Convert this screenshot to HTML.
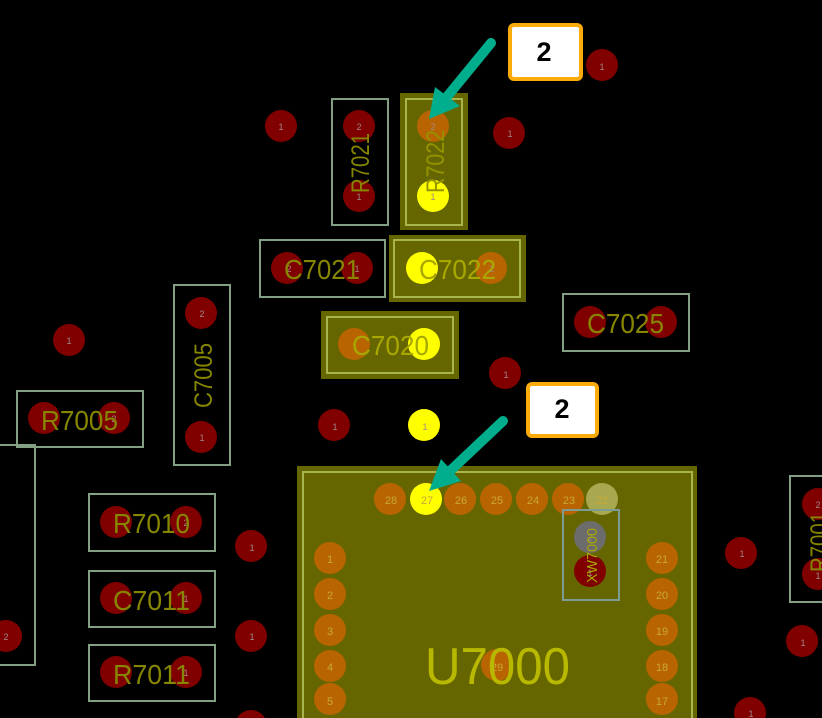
<!DOCTYPE html>
<html><head><meta charset="utf-8">
<style>
html,body{margin:0;padding:0;background:#000;width:822px;height:718px;overflow:hidden}
svg{display:block;font-family:"Liberation Sans",sans-serif}
.o{fill:none;stroke:#84a084;stroke-width:2}
.y{fill:none;stroke:#a8b44c;stroke-width:2}
.r{fill:#800000}.g{fill:#b86400}.w{fill:#ffff00}
.n{font-size:9px;fill:#a08888;text-anchor:middle}
.m{font-size:11px;fill:#c8a838;text-anchor:middle}
.t{font-size:28px;fill:#868600;text-anchor:start}
.u{fill:#a8a800}
</style></head><body>
<svg width="822" height="718" viewBox="0 0 822 718" xmlns="http://www.w3.org/2000/svg">
<rect width="822" height="718" fill="#000"/>
<!-- filled footprints -->
<rect x="400" y="93" width="68" height="137" fill="#666600"/>
<rect x="389" y="235" width="137" height="67" fill="#666600"/>
<rect x="321" y="311" width="138" height="68" fill="#666600"/>
<rect x="297" y="466" width="400" height="252" fill="#666600"/>
<!-- outlines -->
<rect class="y" x="406" y="99" width="56" height="126"/>
<rect class="y" x="394" y="240" width="126" height="57"/>
<rect class="y" x="327" y="317" width="126" height="56"/>
<path class="y" d="M303 718V472H692V718"/>
<!-- free pads -->
<g class="r">
<circle cx="281" cy="126" r="16"/><circle cx="359" cy="126" r="16"/><circle cx="359" cy="196" r="16"/>
<circle cx="509" cy="133" r="16"/><circle cx="602" cy="65" r="16"/>
<circle cx="287" cy="268" r="16"/><circle cx="357" cy="268" r="16"/>
<circle cx="590" cy="322" r="16"/><circle cx="661" cy="322" r="16"/>
<circle cx="69" cy="340" r="16"/><circle cx="201" cy="313" r="16"/><circle cx="201" cy="437" r="16"/>
<circle cx="44" cy="418" r="16"/><circle cx="114" cy="418" r="16"/>
<circle cx="505" cy="373" r="16"/><circle cx="334" cy="425" r="16"/>
<circle cx="116" cy="522" r="16"/><circle cx="186" cy="522" r="16"/>
<circle cx="116" cy="598" r="16"/><circle cx="186" cy="598" r="16"/>
<circle cx="116" cy="672" r="16"/><circle cx="186" cy="672" r="16"/>
<circle cx="6" cy="636" r="16"/><circle cx="251" cy="546" r="16"/><circle cx="251" cy="636" r="16"/><circle cx="251" cy="726" r="16"/>
<circle cx="741" cy="553" r="16"/><circle cx="802" cy="641" r="16"/><circle cx="750" cy="713" r="16"/>
<circle cx="818" cy="504" r="16"/><circle cx="818" cy="574" r="16"/>
<circle cx="590" cy="571" r="16"/>
</g>
<g class="g">
<circle cx="433" cy="126" r="16"/><circle cx="491" cy="268" r="16"/><circle cx="354" cy="344" r="16"/>
<circle cx="390" cy="499" r="16"/><circle cx="460" cy="499" r="16"/><circle cx="496" cy="499" r="16"/>
<circle cx="532" cy="499" r="16"/><circle cx="568" cy="499" r="16"/>
<circle cx="330" cy="558" r="16"/><circle cx="330" cy="594" r="16"/><circle cx="330" cy="630" r="16"/><circle cx="330" cy="666" r="16"/><circle cx="330" cy="699" r="16"/>
<circle cx="662" cy="558" r="16"/><circle cx="662" cy="594" r="16"/><circle cx="662" cy="630" r="16"/><circle cx="662" cy="666" r="16"/><circle cx="662" cy="699" r="16"/>
<circle cx="497" cy="665" r="16"/>
</g>
<g class="w">
<circle cx="433" cy="196" r="16"/><circle cx="422" cy="268" r="16"/><circle cx="424" cy="344" r="16"/>
<circle cx="424" cy="425" r="16"/><circle cx="426" cy="499" r="16"/>
</g>
<circle cx="602" cy="499" r="16" fill="#a8a850"/>
<circle cx="590" cy="537" r="16" fill="#6c6c6c"/>
<!-- grey outlines -->
<g class="o">
<rect x="332" y="99" width="56" height="126"/>
<rect x="260" y="240" width="125" height="57"/>
<rect x="563" y="294" width="126" height="57"/>
<rect x="174" y="285" width="56" height="180"/>
<rect x="17" y="391" width="126" height="56"/>
<path d="M0 445H35V665H0"/>
<rect x="89" y="494" width="126" height="57"/>
<rect x="89" y="571" width="126" height="56"/>
<rect x="89" y="645" width="126" height="56"/>
<rect x="563" y="510" width="56" height="90" stroke="#7c9c94"/>
<path d="M822 476H790V602H822"/>
</g>
<!-- pad numbers -->
<g class="n">
<text x="281" y="130">1</text><text x="359" y="130">2</text><text x="359" y="200">1</text>
<text x="433" y="130">2</text><text x="433" y="200">1</text><text x="510" y="137">1</text><text x="602" y="70">1</text>
<text x="289" y="272">2</text><text x="357" y="272">1</text><text x="492" y="272">2</text>
<text x="69" y="344">1</text><text x="202" y="317">2</text><text x="202" y="441">1</text>
<text x="114" y="422">2</text><text x="506" y="378">1</text><text x="335" y="430">1</text><text x="425" y="430">1</text>
<text x="186" y="526">2</text><text x="186" y="602">1</text><text x="186" y="676">1</text>
<text x="6" y="640">2</text><text x="252" y="551">1</text><text x="252" y="640">1</text>
<text x="742" y="557">1</text><text x="803" y="646">1</text><text x="751" y="717">1</text>
<text x="818" y="508">2</text><text x="818" y="579">1</text><text x="590" y="576">1</text><text x="590" y="541">2</text>
</g>
<g class="m">
<text x="391" y="504">28</text><text x="427" y="504">27</text><text x="461" y="504">26</text><text x="497" y="504">25</text>
<text x="533" y="504">24</text><text x="569" y="504">23</text><text x="602" y="504">22</text>
<text x="330" y="563">1</text><text x="330" y="599">2</text><text x="330" y="635">3</text><text x="330" y="671">4</text><text x="330" y="705">5</text>
<text x="662" y="563">21</text><text x="662" y="599">20</text><text x="662" y="635">19</text><text x="662" y="671">18</text><text x="662" y="705">17</text>
<text x="497" y="671">29</text>
</g>
<!-- reference designators -->
<text class="t" x="284" y="279" textLength="76" lengthAdjust="spacingAndGlyphs">C7021</text>
<text class="t u" x="419" y="279" textLength="77" lengthAdjust="spacingAndGlyphs">C7022</text>
<text class="t u" x="352" y="355" textLength="77" lengthAdjust="spacingAndGlyphs">C7020</text>
<text class="t" x="587" y="333" textLength="77" lengthAdjust="spacingAndGlyphs">C7025</text>
<text class="t" x="41" y="430" textLength="77" lengthAdjust="spacingAndGlyphs">R7005</text>
<text class="t" x="113" y="533" textLength="77" lengthAdjust="spacingAndGlyphs">R7010</text>
<text class="t" x="113" y="610" textLength="77" lengthAdjust="spacingAndGlyphs">C7011</text>
<text class="t" x="113" y="684" textLength="77" lengthAdjust="spacingAndGlyphs">R7011</text>
<text class="t" transform="translate(369,193) rotate(-90)" textLength="60" lengthAdjust="spacingAndGlyphs" style="font-size:25px">R7021</text>
<text class="t u" transform="translate(444,193) rotate(-90)" textLength="63" lengthAdjust="spacingAndGlyphs" style="font-size:25px;fill:#949400">R7022</text>
<text class="t" transform="translate(212,408) rotate(-90)" textLength="65" lengthAdjust="spacingAndGlyphs" style="font-size:25px">C7005</text>
<text class="t" transform="translate(828,572) rotate(-90)" textLength="60" lengthAdjust="spacingAndGlyphs" style="font-size:25px">R7001</text>
<text transform="translate(597,583) rotate(-90)" textLength="55" lengthAdjust="spacingAndGlyphs" style="font-size:15px" fill="#a8a800">XW7000</text>
<text x="425" y="684" textLength="145" lengthAdjust="spacingAndGlyphs" style="font-size:52px" fill="#b8b800">U7000</text>
<!-- arrows -->
<g fill="#00ae8e" stroke="#00ae8e">
<line x1="491" y1="43" x2="446" y2="98" stroke-width="10" stroke-linecap="round"/>
<polygon points="429,119 435,87 460,106" stroke="none"/>
<line x1="503" y1="421" x2="450" y2="471" stroke-width="10" stroke-linecap="round"/>
<polygon points="429,491 441,459 461,481" stroke="none"/>
</g>
<!-- callouts -->
<rect x="510" y="25" width="71" height="54" rx="4" fill="#fff" stroke="#fbab0b" stroke-width="4"/>
<rect x="528" y="384" width="69" height="52" rx="4" fill="#fff" stroke="#fbab0b" stroke-width="4"/>
<text x="544" y="61" text-anchor="middle" style="font-size:27px;font-weight:bold" fill="#000">2</text>
<text x="562" y="418" text-anchor="middle" style="font-size:27px;font-weight:bold" fill="#000">2</text>
</svg>
</body></html>
